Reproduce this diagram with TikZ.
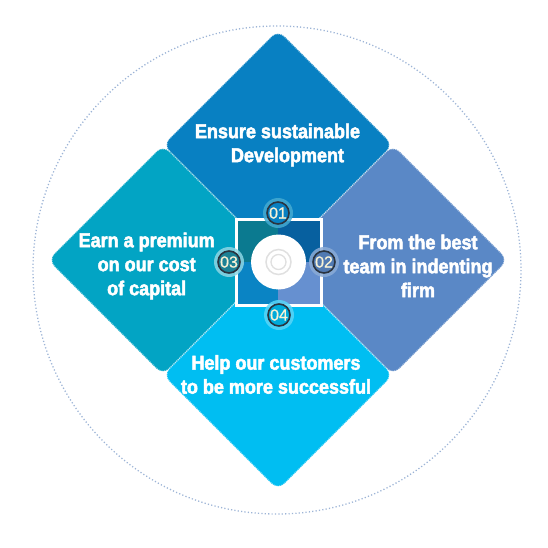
\documentclass[tikz,border=0pt]{standalone}
\usepackage{fontspec}
\setmainfont{Liberation Sans}
\newfontfamily\labelfont{Liberation Sans}[UprightFont=* Bold, FakeBold=2.5, FakeStretch=0.9]
\newfontfamily\badgefont{Liberation Sans}[FakeBold=0.8]
\definecolor{ctop}{HTML}{0880C2}
\definecolor{cleft}{HTML}{02A4C4}
\definecolor{cright}{HTML}{5A88C6}
\definecolor{cbot}{HTML}{00BEF2}
\definecolor{qtl}{HTML}{0B7A90}
\definecolor{qtr}{HTML}{07609F}
\definecolor{qbl}{HTML}{0A84C4}
\definecolor{qbr}{HTML}{6690D0}
\definecolor{ringc}{HTML}{2A3440}
\definecolor{cream}{HTML}{F8F2D6}
\definecolor{circc}{HTML}{9DB4D6}
\tikzset{
  petal/.style={rounded corners=9pt, draw=white, draw opacity=0.6, line width=1.3pt, dash pattern=on 1pt off 1pt},
  label/.style={text=white, align=center, font=\labelfont\fontsize{20}{24}\selectfont, inner sep=0pt},
  badge/.style={circle, minimum size=22pt, inner sep=0pt, draw=ringc, line width=1.6pt, text=cream, font=\badgefont\fontsize{16}{16}\selectfont},
  halo/.style={opacity=0.85}
}
\begin{document}
\begin{tikzpicture}[x=1pt,y=-1pt]
\useasboundingbox (0,0) rectangle (548,548);
% outer dotted circle
\draw[circc, line width=1.3pt, dash pattern=on 1.2pt off 2.2pt] (277,270) circle (244);
% diamonds
\path[petal, fill=ctop] (278,30) -- (393,145) -- (278,260) -- (163,145) -- cycle;
\path[petal, fill=cleft] (163,145) -- (278,260) -- (163,375) -- (48,260) -- cycle;
\path[petal, fill=cright] (393,145) -- (508,260) -- (393,375) -- (278,260) -- cycle;
\path[petal, fill=cbot] (278,260) -- (393,375) -- (278,490) -- (163,375) -- cycle;
% centre square
\fill[qtl] (236,219) rectangle (278,262);
\fill[qtr] (278,219) rectangle (321,262);
\fill[qbl] (236,262) rectangle (278,305);
\fill[qbr] (278,262) rectangle (321,305);
\draw[white, line width=3pt] (236,219) rectangle (321,305);
% white disc
\fill[white] (278.5,262) circle (27.5);
\draw[black!12, line width=1.5pt] (278.5,262) circle (12.5);
\draw[black!12, line width=1.3pt] (278.5,262) circle (7.5);
% badges
\fill[halo, fill=ctop!60!cleft!75!white] (278,213) circle (15);
\node[badge, fill=ctop] (b1) at (278,213) {01};
\fill[halo, fill=cright!70!white] (324,262) circle (15);
\node[badge, fill=cright!90!black] (b2) at (324,262) {02};
\fill[halo, fill=cleft!45!white] (229,262) circle (15);
\node[badge, fill=cleft!70!black!90!white] (b3) at (229,262) {03};
\fill[halo, fill=cbot!65!white] (279,315) circle (15);
\node[badge, fill=cbot!90!black] (b4) at (279,315) {04};
% labels
\node[label] (t1) at (277.5,145) {Ensure sustainable\\\hphantom{xx}Development};
\node[label] (t2) at (146.7,266) {Earn a premium\\on our cost\\of capital};
\node[label] (t3) at (418,266) {From the best\\team in indenting\\firm};
\node[label] (t4) at (276,374.5) {Help our customers\\to be more successful};
\end{tikzpicture}
\end{document}
